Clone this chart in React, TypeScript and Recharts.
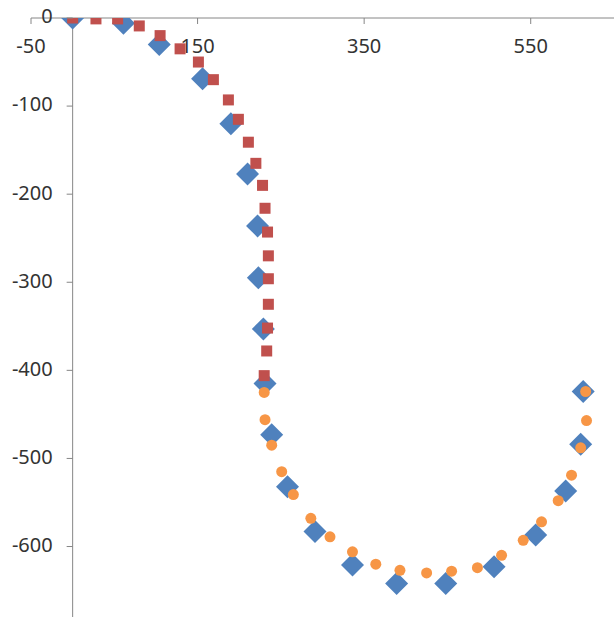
import * as React from "react";
import {
  ScatterChart,
  Scatter,
  XAxis,
  YAxis,
  ReferenceLine,
} from "recharts";

// series
const diamondX = [0, 61, 104, 156, 190, 210, 222, 223, 229, 231, 239, 258, 291, 336, 389, 448, 506, 556, 592, 610, 613];
const diamondY = [0, -6, -30, -69, -120, -177, -236, -295, -353, -415, -473, -532, -583, -621, -642, -642, -623, -587, -537, -484, -424];

const squareX = [0, 28, 54, 80, 105, 129, 151, 169, 187, 199, 211, 220, 228, 231, 234, 235, 235, 235, 234, 233, 230];
const squareY = [0, -1, -1, -9, -20, -35, -50, -70, -93, -115, -141, -165, -190, -216, -243, -270, -296, -325, -352, -378, -406];

const circleX = [230, 231, 239, 251, 265, 286, 309, 336, 364, 393, 425, 455, 486, 515, 541, 563, 583, 599, 610, 617, 616];
const circleY = [-425, -456, -485, -515, -541, -568, -589, -606, -620, -627, -630, -628, -624, -610, -593, -572, -548, -519, -488, -457, -424];

const xTicks = [-50, 150, 350, 550];
const yTicks = [0, -100, -200, -300, -400, -500, -600];

const X_MIN = -50;
const X_MAX = 650;
const Y_MIN = -680;

const W = 616;
const H = 618;
// axes take 1px each, so the plot starts at left 31, top 18
const M = { top: 17, left: 30, right: 2, bottom: 1 };

const AXIS = "#868686";
const TEXT = "#333333";
const FONT = "'Noto Sans', 'Open Sans', sans-serif";

const zip = (xs: number[], ys: number[]) => xs.map((x, i) => ({ x, y: ys[i] }));

const diamonds = zip(diamondX, diamondY);
const squares = zip(squareX, squareY);
const circles = zip(circleX, circleY);

// pixel offset of x = 0 from the plot's left edge, where the y axis crosses
const plotW = W - M.left - 1 - M.right;
const zeroOffset = ((0 - X_MIN) / (X_MAX - X_MIN)) * plotW;

function XTick(props: any) {
  const { x, y, payload } = props;
  return (
    <g>
      <line x1={x} x2={x} y1={y} y2={y + 6} stroke={AXIS} />
      <text
        x={x}
        y={y + 30}
        textAnchor="middle"
        dominantBaseline="middle"
        fill={TEXT}
        fontSize={20}
        fontFamily={FONT}
      >
        {payload.value}
      </text>
    </g>
  );
}

function YTick(props: any) {
  const { x, y, payload } = props;
  const x0 = x + zeroOffset;
  return (
    <g>
      <line x1={x0 - 6} x2={x0} y1={y} y2={y} stroke={AXIS} />
      <text
        x={x0 - 20}
        y={y}
        textAnchor="end"
        dominantBaseline="middle"
        fill={TEXT}
        fontSize={20}
        fontFamily={FONT}
      >
        {payload.value}
      </text>
    </g>
  );
}

const Diamond = (p: any) => {
  const r = 11.5;
  return (
    <path
      d={`M${p.cx},${p.cy - r}L${p.cx + r},${p.cy}L${p.cx},${p.cy + r}L${p.cx - r},${p.cy}Z`}
      fill="#4F81BD"
    />
  );
};

const Square = (p: any) => (
  <rect x={p.cx - 5.5} y={p.cy - 5.5} width={11} height={11} fill="#C0504D" />
);

const Dot = (p: any) => <circle cx={p.cx} cy={p.cy} r={5.5} fill="#F79646" />;

export default function App() {
  return (
    <div style={{ position: "absolute", left: 0, top: 0, width: W, height: H, background: "#fff" }}>
      <ScatterChart width={W} height={H} margin={M}>
        <XAxis
          type="number"
          dataKey="x"
          orientation="top"
          domain={[X_MIN, X_MAX]}
          ticks={xTicks}
          height={1}
          tickSize={0}
          tickMargin={0}
          tickLine={false}
          axisLine={{ stroke: AXIS }}
          tick={<XTick />}
          allowDataOverflow
        />
        <YAxis
          type="number"
          dataKey="y"
          domain={[Y_MIN, 0]}
          ticks={yTicks}
          width={1}
          tickSize={0}
          tickMargin={0}
          tickLine={false}
          axisLine={false}
          tick={<YTick />}
          allowDataOverflow
        />
        <ReferenceLine x={0} stroke={AXIS} />
        <Scatter data={diamonds} shape={Diamond} isAnimationActive={false} />
        <Scatter data={squares} shape={Square} isAnimationActive={false} />
        <Scatter data={circles} shape={Dot} isAnimationActive={false} />
      </ScatterChart>
    </div>
  );
}
